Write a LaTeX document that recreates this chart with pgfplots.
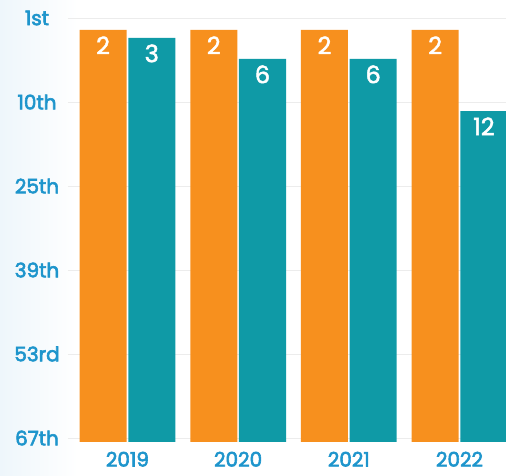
\documentclass[border=0pt]{standalone}
\usepackage{fontspec}
\setmainfont{Poppins}
\newfontfamily\semib{Poppins}[FakeBold=3]
\newfontfamily\medb{Poppins}[FakeBold=2]
\usepackage{pgfplots}
\pgfplotsset{compat=1.18}
\definecolor{barorange}{HTML}{F7901E}
\definecolor{barteal}{HTML}{0F9AA6}
\definecolor{lblblue}{HTML}{1E95CC}
\definecolor{bgblue}{HTML}{EEF6FB}
\begin{document}
\begin{tikzpicture}[x=1pt,y=1pt]
\shade[left color=bgblue, right color=white] (-68pt,-34pt) rectangle (10pt,442pt);
\begin{axis}[
  at={(0pt,0pt)}, anchor=south west,
  scale only axis, width=438pt, height=432pt,
  xmin=-0.537, xmax=3.42,
  ymin=0, ymax=5.143,
  ybar, bar width=0.425,
  axis line style={draw=none},
  tick style={draw=none},
  xtick={0,1,2,3},
  xticklabels={2019,2020,2021,2022},
  ytick={0.0476,1.0476,2.0476,3.0476,4.0476,5.0476},
  yticklabels={67th,53rd,39th,25th,10th,1st},
  ymajorgrids,
  grid style={gray!15, line width=0.8pt},
  yticklabel style={anchor=center, xshift=-31pt, font=\fontsize{20}{20}\semib, text=lblblue},
  xticklabel style={yshift=-2pt, font=\fontsize{20}{20}\semib, text=lblblue},
  /pgf/number format/assume math mode=true,
  point meta=explicit symbolic,
  nodes near coords,
  every node near coord/.append style={anchor=north, yshift=-3pt, text=white, font=\fontsize{24}{24}\medb},
]
\addplot[fill=barorange, draw=none, bar shift=-0.22] coordinates {
  (0,4.905) [2] (1,4.905) [2] (2,4.905) [2] (3,4.905) [2]
};
\addplot[fill=barteal, draw=none, bar shift=0.22] coordinates {
  (0,4.81) [3] (1,4.56) [6] (2,4.56) [6] (3,3.94) [12]
};
\end{axis}
\pgfresetboundingbox
\path[use as bounding box] (-68pt,-34pt) rectangle (438pt,442pt);
\end{tikzpicture}
\end{document}
